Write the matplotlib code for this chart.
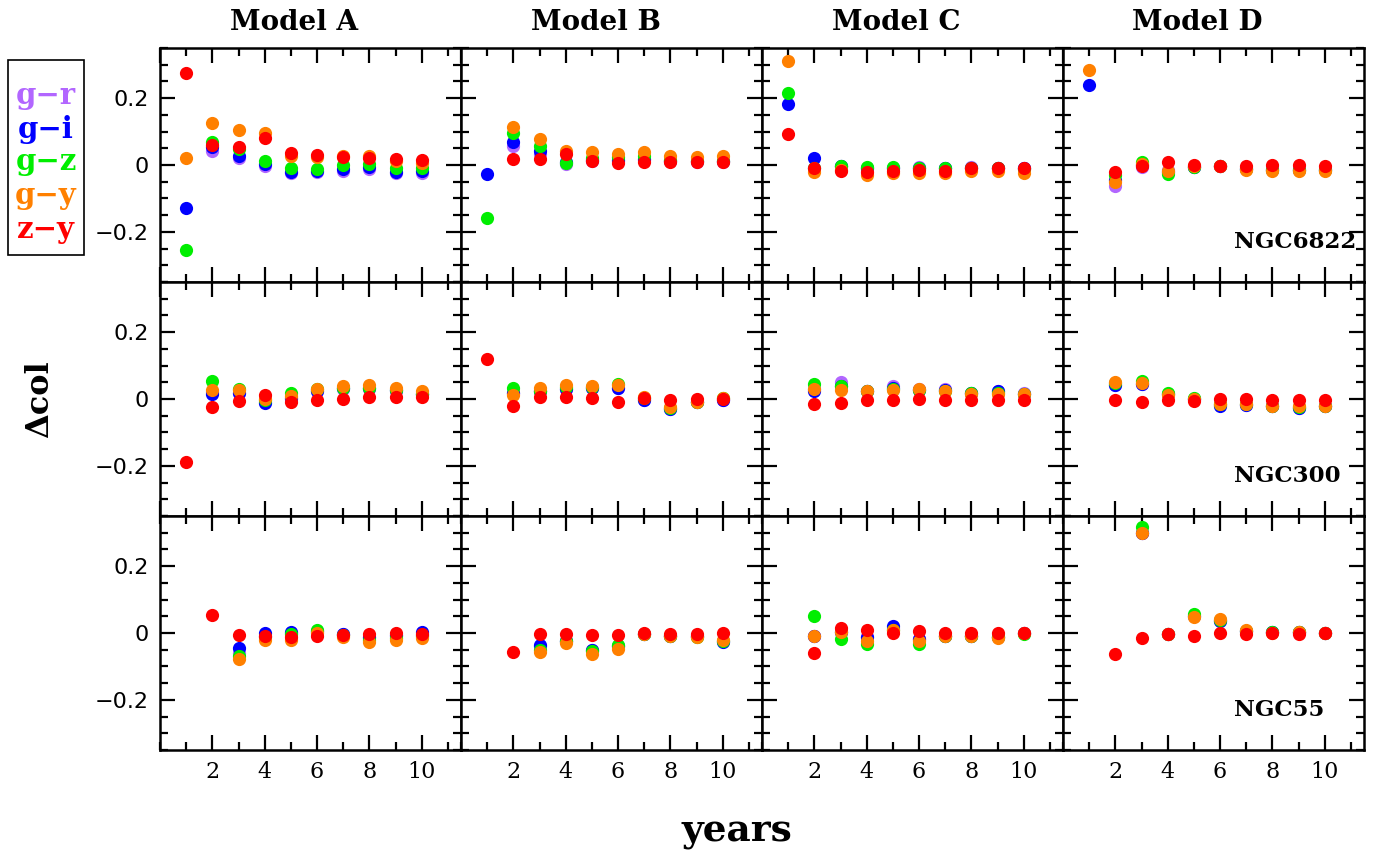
import numpy as np
import matplotlib
matplotlib.use("Agg")
import matplotlib.pyplot as plt
from matplotlib.ticker import MultipleLocator
from matplotlib.patches import Rectangle

nan = np.nan
years = [1, 2, 3, 4, 5, 6, 7, 8, 9, 10]
models = ["Model A", "Model B", "Model C", "Model D"]
galaxies = ["NGC6822", "NGC300", "NGC55"]
series_labels = ["g\u2212r", "g\u2212i", "g\u2212z", "g\u2212y", "z\u2212y"]
series_colors = ["#b266ff", "#0000ff", "#00ee00", "#ff8000", "#ff0000"]

# ---- NGC6822 (rows: Model A..D) ----
gr_NGC6822 = [
    [nan, 0.043, 0.020, -0.002, -0.024, -0.020, -0.017, -0.012, -0.024, -0.024],
    [nan, 0.056, 0.033, 0.003, 0.012, 0.012, 0.015, 0.012, 0.010, 0.010],
    [nan, -0.010, -0.004, -0.008, -0.008, -0.006, -0.010, -0.006, -0.008, -0.010],
    [nan, -0.064, -0.007, -0.015, -0.005, -0.003, -0.010, -0.012, -0.012, -0.012]]
gi_NGC6822 = [
    [-0.129, 0.055, 0.026, 0.003, -0.020, -0.019, -0.012, -0.007, -0.020, -0.019],
    [-0.028, 0.070, 0.041, 0.008, 0.014, 0.014, 0.018, 0.013, 0.011, 0.011],
    [0.183, 0.020, -0.004, -0.008, -0.008, -0.008, -0.010, -0.008, -0.008, -0.010],
    [0.239, -0.045, 0.000, -0.020, -0.005, -0.002, -0.012, -0.014, -0.014, -0.014]]
gz_NGC6822 = [
    [-0.255, 0.068, 0.048, 0.013, -0.010, -0.012, 0.000, 0.003, -0.010, -0.010],
    [-0.159, 0.095, 0.058, 0.006, 0.022, 0.023, 0.026, 0.015, 0.012, 0.013],
    [0.216, -0.010, -0.002, -0.005, -0.006, -0.010, -0.010, -0.008, -0.010, -0.012],
    [nan, -0.030, 0.010, -0.027, -0.007, -0.003, -0.013, -0.015, -0.015, -0.015]]
gy_NGC6822 = [
    [0.022, 0.126, 0.105, 0.096, 0.026, 0.023, 0.028, 0.026, 0.013, 0.006],
    [nan, 0.115, 0.079, 0.043, 0.038, 0.033, 0.038, 0.028, 0.023, 0.026],
    [0.310, -0.020, -0.015, -0.029, -0.025, -0.025, -0.025, -0.017, -0.019, -0.025],
    [0.283, -0.052, 0.003, -0.017, -0.003, -0.002, -0.015, -0.017, -0.017, -0.017]]
zy_NGC6822 = [
    [0.275, 0.060, 0.053, 0.080, 0.035, 0.031, 0.025, 0.020, 0.018, 0.016],
    [nan, 0.018, 0.018, 0.033, 0.012, 0.006, 0.010, 0.010, 0.008, 0.010],
    [0.093, -0.009, -0.017, -0.020, -0.017, -0.014, -0.017, -0.009, -0.009, -0.009],
    [nan, -0.021, -0.004, 0.008, 0.001, -0.002, -0.002, 0.000, 0.000, -0.002]]

# ---- NGC300 ----
gr_NGC300 = [
    [nan, 0.020, 0.018, -0.010, 0.000, 0.025, 0.030, 0.030, 0.025, 0.015],
    [nan, 0.018, 0.025, 0.030, 0.033, 0.033, -0.004, -0.030, -0.009, -0.004],
    [nan, 0.030, 0.051, 0.025, 0.038, 0.030, 0.030, 0.018, 0.023, 0.017],
    [nan, 0.043, 0.045, 0.015, 0.000, -0.018, -0.018, -0.022, -0.027, -0.020]]
gi_NGC300 = [
    [nan, 0.016, 0.018, -0.012, 0.002, 0.025, 0.032, 0.032, 0.026, 0.015],
    [nan, 0.018, 0.025, 0.030, 0.033, 0.033, -0.004, -0.030, -0.009, -0.004],
    [nan, 0.023, 0.040, 0.023, 0.032, 0.028, 0.026, 0.018, 0.023, 0.015],
    [nan, 0.043, 0.045, 0.015, 0.000, -0.020, -0.018, -0.022, -0.027, -0.020]]
gz_NGC300 = [
    [nan, 0.053, 0.030, -0.004, 0.018, 0.030, 0.032, 0.033, 0.026, 0.015],
    [nan, 0.032, 0.025, 0.036, 0.036, 0.046, 0.004, -0.026, -0.008, 0.002],
    [nan, 0.046, 0.038, 0.023, 0.030, 0.028, 0.024, 0.018, 0.018, 0.015],
    [nan, 0.048, 0.055, 0.018, 0.003, -0.016, -0.016, -0.020, -0.024, -0.020]]
gy_NGC300 = [
    [nan, 0.028, 0.028, 0.000, 0.008, 0.030, 0.038, 0.042, 0.033, 0.023],
    [nan, 0.011, 0.032, 0.043, 0.040, 0.041, 0.006, -0.023, -0.009, 0.004],
    [nan, 0.031, 0.028, 0.023, 0.028, 0.030, 0.023, 0.016, 0.016, 0.015],
    [nan, 0.051, 0.048, 0.013, 0.000, -0.014, -0.015, -0.020, -0.022, -0.020]]
zy_NGC300 = [
    [-0.188, -0.025, -0.005, 0.011, -0.010, -0.002, 0.001, 0.006, 0.006, 0.006],
    [0.119, -0.022, 0.005, 0.006, 0.002, -0.008, 0.002, -0.004, 0.000, 0.000],
    [nan, -0.014, -0.012, -0.004, -0.004, 0.001, -0.004, -0.004, -0.002, -0.004],
    [nan, -0.002, -0.008, -0.004, -0.005, 0.001, 0.001, -0.004, -0.002, -0.002]]

# ---- NGC55 ----
gr_NGC55 = [
    [nan, nan, -0.060, -0.010, 0.000, 0.004, -0.004, -0.015, -0.010, -0.005],
    [nan, nan, -0.040, -0.025, -0.052, -0.040, -0.002, -0.008, -0.010, -0.025],
    [nan, -0.008, 0.003, -0.012, 0.015, -0.017, -0.008, -0.008, -0.012, 0.000],
    [nan, nan, 0.300, -0.004, 0.050, 0.036, 0.005, 0.002, 0.002, 0.000]]
gi_NGC55 = [
    [nan, nan, -0.044, 0.000, 0.003, 0.005, -0.002, -0.012, -0.005, 0.002],
    [nan, nan, -0.037, -0.025, -0.052, -0.040, -0.002, -0.008, -0.010, -0.027],
    [nan, -0.008, 0.003, -0.012, 0.020, -0.017, -0.008, -0.008, -0.012, 0.000],
    [nan, nan, 0.300, -0.004, 0.050, 0.036, 0.005, 0.002, 0.002, 0.000]]
gz_NGC55 = [
    [nan, nan, -0.070, -0.012, -0.004, 0.008, -0.006, -0.020, -0.015, -0.010],
    [nan, nan, -0.052, -0.024, -0.055, -0.037, -0.002, -0.009, -0.011, -0.024],
    [nan, 0.050, -0.017, -0.032, 0.010, -0.032, -0.008, -0.010, -0.012, -0.002],
    [nan, nan, 0.316, -0.004, 0.058, 0.040, 0.006, 0.002, 0.003, 0.000]]
gy_NGC55 = [
    [nan, nan, -0.078, -0.020, -0.020, 0.000, -0.012, -0.027, -0.022, -0.014],
    [nan, nan, -0.058, -0.030, -0.062, -0.047, -0.002, -0.010, -0.012, -0.022],
    [nan, -0.010, 0.003, -0.024, 0.010, -0.025, -0.010, -0.010, -0.014, 0.000],
    [nan, nan, 0.300, -0.004, 0.048, 0.041, 0.008, 0.001, 0.002, 0.000]]
zy_NGC55 = [
    [nan, 0.055, -0.007, -0.008, -0.012, -0.008, -0.007, -0.004, 0.000, -0.004],
    [nan, -0.057, -0.004, -0.004, -0.005, -0.007, 0.000, -0.004, -0.004, 0.000],
    [nan, -0.060, 0.016, 0.010, 0.001, 0.006, 0.001, 0.001, 0.001, 0.001],
    [nan, -0.062, -0.015, -0.004, -0.008, 0.000, -0.002, 0.000, -0.002, 0.000]]

data = {
    "NGC6822": [gr_NGC6822, gi_NGC6822, gz_NGC6822, gy_NGC6822, zy_NGC6822],
    "NGC300": [gr_NGC300, gi_NGC300, gz_NGC300, gy_NGC300, zy_NGC300],
    "NGC55": [gr_NGC55, gi_NGC55, gz_NGC55, gy_NGC55, zy_NGC55],
}

W, H = 1375, 856
fig = plt.figure(figsize=(W / 100, H / 100), dpi=100)

left_px, right_px = 160, 1364
top_px, bot_px = 48, 750
col_w = (right_px - left_px) / 4
row_h = (bot_px - top_px) / 3

serif = "DejaVu Serif"
sans = "DejaVu Sans"

for r, gal in enumerate(galaxies):
    for c, mod in enumerate(models):
        x0 = (left_px + c * col_w) / W
        y0 = 1 - (top_px + (r + 1) * row_h) / H
        ax = fig.add_axes([x0, y0, col_w / W, row_h / H])
        for s in range(5):
            ax.plot(years, data[gal][s][c], "o", color=series_colors[s],
                    markersize=9.5, markeredgewidth=0, linestyle="none")
        ax.set_xlim(0, 11.5)
        ax.set_ylim(-0.35, 0.35)
        ax.xaxis.set_major_locator(MultipleLocator(2))
        ax.xaxis.set_minor_locator(MultipleLocator(1))
        ax.yaxis.set_major_locator(MultipleLocator(0.2))
        ax.yaxis.set_minor_locator(MultipleLocator(0.05))
        ax.tick_params(which="both", direction="in", top=True, right=True,
                       width=1.6)
        ax.tick_params(which="major", length=11)
        ax.tick_params(which="minor", length=6)
        for sp in ax.spines.values():
            sp.set_linewidth(1.8)
        if c == 0:
            ax.set_yticks([-0.2, 0, 0.2])
            ax.set_yticklabels(["\u22120.2", "0", "0.2"], fontsize=16,
                               family=sans)
            ax.tick_params(axis="y", pad=8)
        else:
            ax.set_yticklabels([])
        if r == 2:
            ax.set_xticks([2, 4, 6, 8, 10])
            ax.set_xticklabels(["2", "4", "6", "8", "10"], fontsize=16,
                               family=serif)
            ax.tick_params(axis="x", pad=8)
        else:
            ax.set_xticklabels([])
        if r == 0:
            ax.set_title(mod, fontsize=20, fontweight="bold", family=serif,
                         pad=13, x=0.447)
        if c == 3:
            ax.text(6.55, -0.23, gal, fontsize=16.5, fontweight="bold",
                    family=serif, ha="left", va="center")

# axis labels
fig.text(40 / W, 1 - 399 / H, "\u0394col", rotation=90, fontsize=23,
         fontweight="bold", family=serif, ha="center", va="center")
fig.text(737 / W, 1 - 832 / H, "years", fontsize=27, fontweight="bold",
         family=serif, ha="center", va="center")

# legend box
fig.patches.append(Rectangle((8 / W, 1 - 255 / H), 76 / W, 195 / H,
                             transform=fig.transFigure, fill=False,
                             edgecolor="black", linewidth=1.2))
leg_y = [95, 130, 162, 196, 229]
for lab, col, yy in zip(series_labels, series_colors, leg_y):
    fig.text(46 / W, 1 - yy / H, lab, color=col, fontsize=21,
             fontweight="bold", family=serif, ha="center", va="center")

fig.savefig("out.png", dpi=100)
